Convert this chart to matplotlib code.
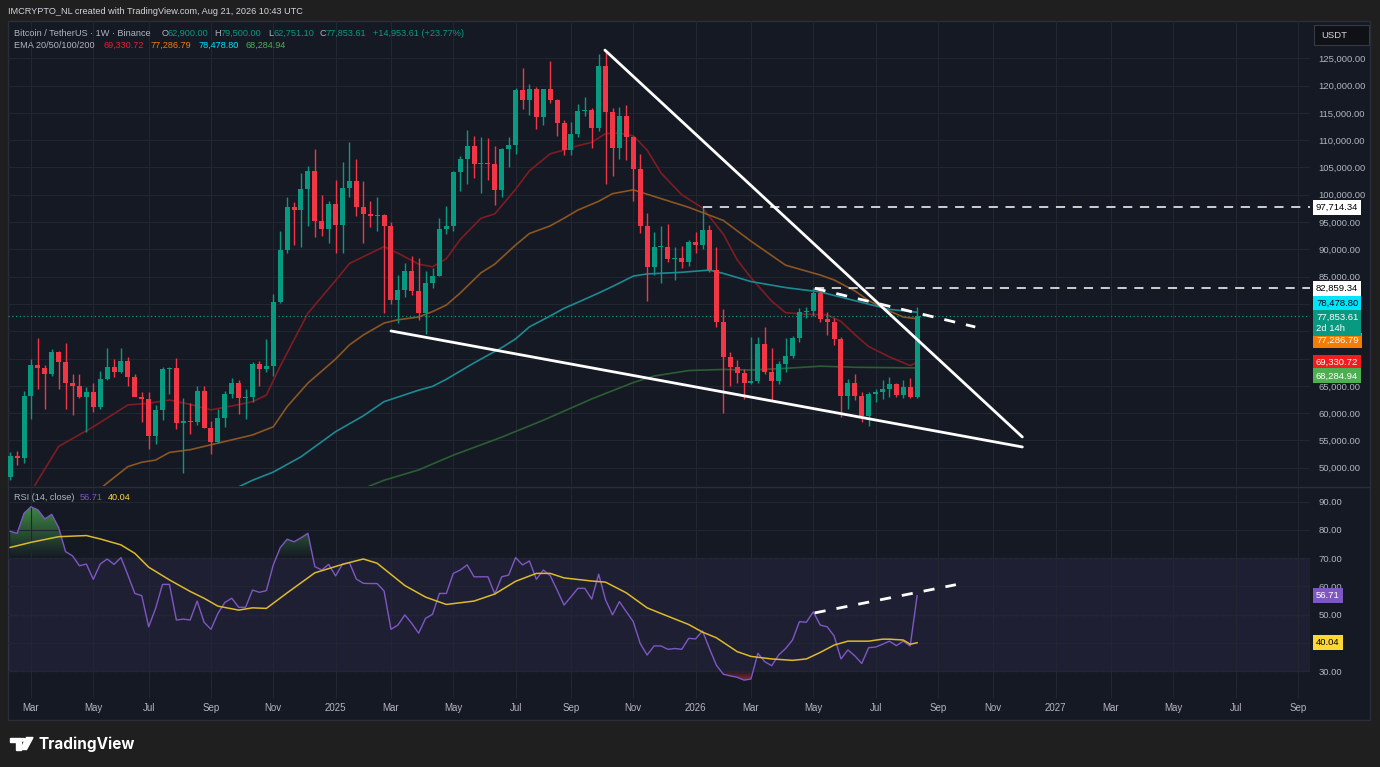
import numpy as np
import pandas as pd
import matplotlib
matplotlib.use('Agg')
import matplotlib.pyplot as plt
import matplotlib.colors as mcolors
from matplotlib.patches import Rectangle, Polygon, Circle
from matplotlib.lines import Line2D
from matplotlib.path import Path

plt.rcParams['font.family'] = ['Liberation Sans', 'DejaVu Sans']

# ---------------- data ----------------
first_week = '2024-02-12'

opens = [48300, 52100, 51700, 63100, 68900, 68300, 67100, 71200, 69300, 65600,
         64900, 63000, 63800, 61100, 66200, 68400, 67600, 69600, 66600, 62900,
         62600, 55800, 60600, 68000, 68200, 58100, 58600, 58400, 64100, 57300,
         54800, 59100, 63500, 65600, 62800, 62900, 69000, 68000, 68700, 80400,
         89800, 97800, 97200, 101100, 104300, 95200, 93700, 98300, 94500, 101300,
         102600, 97700, 96500, 96100, 96300, 94300, 80700, 82600, 86100, 82400,
         78400, 83800, 85200, 93700, 94300, 104100, 106500, 109000, 105600, 105700,
         105600, 100900, 108400, 109200, 119100, 117300, 119400, 114200, 119300, 117400,
         113200, 108200, 111100, 115300, 115500, 112200, 123500, 115200, 108600, 114500,
         110500, 104700, 94300, 86700, 90400, 90500, 88200, 88500, 87600, 91400,
         90800, 93600, 86300, 76700, 70200, 68500, 67400, 65600, 65900, 72700,
         67500, 65900, 69000, 70400, 73800, 78500, 78700, 82000, 77200, 76700,
         73500, 63100, 65600, 63100, 59500, 63500, 63800, 64500, 65300, 63300,
         64800, 62900]
highs = [52800, 52990, 64000, 69990, 73780, 68900, 71700, 71300, 72800, 67200,
         67200, 64700, 65500, 67700, 71900, 70000, 71900, 70200, 67200, 63900,
         63800, 61400, 68400, 68500, 70100, 62700, 61800, 65000, 64900, 58500,
         60700, 64100, 66500, 66000, 64500, 69400, 69500, 73600, 81800, 93300,
         99600, 98700, 104000, 105200, 108400, 99900, 98900, 102700, 106000, 109600,
         106500, 102500, 98800, 99500, 96500, 95000, 85300, 87500, 88800, 88500,
         86100, 86500, 95800, 97900, 104300, 107100, 111900, 110700, 110500, 110400,
         108900, 108500, 110500, 119500, 123200, 120200, 119800, 119300, 124500, 117600,
         113700, 113400, 116700, 117900, 115900, 125700, 126200, 115900, 116100, 116400,
         110800, 107500, 96600, 93100, 94200, 94600, 90400, 90600, 91800, 93200,
         97714, 94500, 90500, 79000, 71200, 69700, 68000, 74000, 74000, 75800,
         71900, 69500, 73800, 74200, 79300, 79400, 82859, 82500, 78500, 77500,
         73900, 66200, 67100, 63900, 63900, 64500, 66000, 66700, 65600, 66100,
         66400, 79500]
lows = [47700, 50500, 50900, 59000, 64500, 60800, 66800, 64500, 60700, 59600,
        62800, 56500, 60200, 60700, 66000, 66600, 67400, 65000, 63300, 58400,
        53500, 54300, 58800, 63500, 57100, 49000, 56100, 57800, 57200, 52500,
        54600, 57500, 62700, 59800, 58900, 62000, 65000, 67500, 66800, 80200,
        89300, 90800, 90500, 94200, 92200, 92500, 91200, 89300, 89300, 99500,
        96200, 91200, 94100, 93400, 78300, 80000, 76600, 81200, 81600, 77000,
        74500, 83000, 85100, 92800, 93300, 100700, 102000, 103100, 100400, 102700,
        98200, 99600, 105100, 107500, 115700, 114700, 112000, 112700, 116800, 110700,
        107300, 107300, 110600, 114400, 108600, 111600, 102000, 103500, 106600, 106300,
        98900, 93000, 80600, 85300, 83800, 87600, 84400, 86600, 86900, 89300,
        90100, 85800, 75800, 60000, 65000, 65600, 62600, 65300, 65600, 67200,
        62400, 65300, 67500, 70100, 73000, 77500, 77800, 76700, 74300, 72500,
        59300, 60800, 62400, 58400, 57600, 62000, 62500, 63000, 62900, 62800,
        62700, 62751.10]
closes = [52100, 51700, 63100, 68900, 68300, 67100, 71200, 69300, 65600, 64900,
          63000, 63800, 61100, 66200, 68400, 67600, 69600, 66600, 62900, 62600,
          55800, 60600, 68000, 68200, 58100, 58600, 58400, 64100, 57300, 54800,
          59100, 63500, 65600, 62800, 62900, 69000, 68000, 68700, 80400, 89800,
          97800, 97200, 101100, 104300, 95200, 93700, 98300, 94500, 101300, 102600,
          97700, 96500, 96100, 96300, 94300, 80700, 82600, 86100, 82400, 78400,
          83800, 85200, 93700, 94300, 104100, 106500, 109000, 105600, 105700, 105600,
          100900, 108400, 109200, 119100, 117300, 119400, 114200, 119300, 117400, 113200,
          108200, 111100, 115300, 115500, 112200, 123500, 115200, 108600, 114500, 110500,
          104700, 94300, 86700, 90400, 90500, 88200, 88500, 87600, 91400, 90800,
          93600, 86300, 76700, 70200, 68500, 67400, 65600, 65900, 72700, 67500,
          65900, 69000, 70400, 73800, 78500, 78700, 82000, 77200, 76700, 73500,
          63100, 65600, 63100, 59500, 63500, 63800, 64500, 65300, 63300, 64800,
          62900, 77853.61]

# EMA lines, read at sample weeks (week number from first candle), values in USD k
ema20_wk = [2, 4, 7, 12, 17, 20, 23, 26, 29, 32, 35, 37, 39, 43, 47, 49, 54, 56, 59, 61,
            63, 65, 68, 70, 73, 75, 78, 80, 82, 84, 86, 88, 90, 92, 94, 97, 100, 103, 105, 107,
            110, 112, 115, 118, 120, 122, 124, 127, 130, 131]
ema20_val = [43.5, 47.7, 53.9, 57.5, 61.5, 61.8, 62.4, 61.6, 60.6, 61.3, 62.1, 63.3, 68.6, 78.3,
             84.3, 87.4, 90.5, 89.3, 87.3, 86.8, 88.3, 91.8, 95.7, 96.5, 101.0, 104.4, 107.5,
             108.2, 109.0, 109.6, 111.2, 111.3, 110.8, 108.2, 104.0, 100.0, 97.6, 92.8, 88.1,
             84.8, 80.5, 78.4, 78.1, 78.0, 76.8, 74.4, 72.2, 70.3, 68.7, 69.33]
ema50_wk = [11, 14, 17, 19, 21, 23, 26, 29, 32, 35, 38, 40, 43, 47, 49, 51, 54, 56, 59, 61,
            63, 65, 68, 70, 73, 75, 78, 80, 82, 85, 87, 90, 92, 94, 98, 103, 107, 112, 117, 119,
            122, 124, 127, 129, 131]
ema50_val = [44.0, 47.2, 50.2, 51.0, 51.4, 52.8, 53.3, 54.2, 55.1, 56.0, 57.5, 61.2, 65.5, 69.9,
             72.5, 74.3, 76.5, 77.1, 77.6, 78.6, 79.8, 82.0, 85.7, 87.3, 90.8, 92.9, 94.3, 95.7,
             97.2, 98.8, 100.2, 100.9, 100.1, 99.3, 97.7, 95.3, 91.5, 87.1, 85.3, 84.4, 82.4,
             80.6, 78.7, 77.6, 77.29]
ema100_wk = [32, 35, 38, 42, 47, 51, 54, 59, 61, 63, 67, 71, 73, 75, 78, 80, 82, 85, 87, 90,
             92, 97, 101, 103, 107, 112, 117, 122, 127, 131]
ema100_val = [45.9, 47.7, 49.2, 52.0, 56.6, 59.5, 62.1, 64.2, 64.9, 66.2, 69.2, 72.0, 73.6, 75.8,
              77.8, 79.2, 80.3, 82.0, 83.2, 85.1, 85.5, 85.8, 86.2, 85.6, 84.1, 83.0, 82.2,
              80.6, 79.0, 78.48]
ema200_wk = [51, 54, 59, 64, 71, 77, 84, 88, 90, 93, 98, 103, 107, 112, 117, 122, 131]
ema200_val = [46.2, 47.7, 49.6, 52.3, 55.6, 58.7, 62.6, 64.6, 65.6, 66.8, 67.8, 68.0, 67.9,
              68.2, 68.6, 68.4, 68.28]

# RSI (14, close), one value per week
rsi_vals = [79.5, 78.8, 85.9, 88.2, 87.1, 83.9, 85.5, 80.8, 72.3, 70.8,
            67.3, 67.9, 62.5, 67.9, 69.7, 67.8, 70.2, 64.0, 57.5, 56.7,
            45.7, 52.2, 60.7, 60.7, 48.1, 48.4, 48.1, 54.8, 47.3, 44.8,
            50.4, 54.3, 55.8, 52.6, 52.6, 58.7, 57.9, 58.5, 67.6, 73.7,
            76.7, 75.8, 77.2, 78.8, 67.0, 65.8, 67.8, 63.7, 67.9, 68.4,
            62.6, 61.1, 61.0, 61.0, 58.4, 44.8, 46.3, 49.9, 46.9, 43.4,
            48.7, 50.1, 57.5, 57.5, 64.6, 65.8, 67.6, 63.4, 63.4, 63.4,
            57.3, 63.4, 64.0, 70.2, 67.6, 69.0, 62.5, 65.8, 63.8, 58.7,
            53.4, 56.3, 59.3, 59.3, 55.5, 64.3, 55.2, 49.9, 54.6, 51.0,
            47.5, 39.8, 35.7, 38.9, 38.9, 37.7, 38.0, 37.7, 41.6, 41.4,
            44.2, 38.0, 32.1, 28.9, 28.3, 27.8, 26.8, 27.2, 36.3, 33.3,
            31.9, 35.7, 38.0, 41.0, 47.5, 47.3, 51.0, 46.3, 45.7, 42.5,
            34.3, 37.5, 35.4, 32.7, 38.3, 38.5, 39.5, 40.6, 39.0, 40.6,
            38.9, 56.71]
rsi_ma_wk = [0, 3, 7, 11, 13, 16, 18, 20, 23, 26, 28, 30, 33, 35, 37, 40, 44, 48, 51, 53,
             57, 60, 63, 67, 70, 73, 76, 78, 80, 84, 86, 89, 92, 94, 98, 100, 102, 105, 107, 110,
             113, 115, 117, 119, 121, 124, 126, 127, 129, 130, 131]
rsi_ma_val = [73.8, 75.6, 77.6, 78.0, 76.8, 74.7, 71.7, 66.8, 62.3, 58.2, 55.8, 53.0, 51.6, 52.4,
              52.2, 57.7, 64.8, 67.8, 69.7, 68.2, 60.3, 56.2, 53.6, 54.8, 57.3, 61.8, 64.6, 64.6,
              63.0, 61.9, 61.5, 57.7, 52.4, 50.4, 46.5, 43.8, 41.8, 36.9, 35.2, 34.3, 33.8, 34.3,
              36.6, 39.2, 40.6, 40.6, 41.3, 41.3, 41.0, 39.5, 40.04]

# drawings
wedge_top_wk = [85.9, 146.2]
wedge_top_px = [126500, 55630]
wedge_bot_wk = [55.0, 146.2]
wedge_bot_px = [75050, 53800]
level_hi = 97714.34
level_hi_wk = 100.1
level_lo = 82859.34
level_lo_wk = 116.2
res_dash_wk = [116.2, 139.4]
res_dash_px = [82859.34, 75780]
rsi_dash_wk = [116.2, 136.6]
rsi_dash_val = [50.6, 60.6]
last_price = 77853.61

ema_last = [69330.72, 77286.79, 78478.80, 68284.94]
rsi_last = 56.71
rsi_ma_last = 40.04

# ---------------- styling ----------------
BG = '#151924'
OUTER = '#1f1f1f'
GRID = '#222631'
TXT = '#b2b5be'
UP = '#089981'
DN = '#f23645'
W, H = 1380, 767

n = len(closes)
idx = np.arange(n)
o = np.array(opens, float)
h = np.array(highs, float)
l = np.array(lows, float)
c = np.array(closes, float)

weeks = pd.date_range(first_week, periods=190, freq='7D')
tick_pos, tick_lab = [], []
for k, d in enumerate(weeks):
    if d.month % 2 == 1 and d.day <= 7:
        tick_pos.append(k)
        tick_lab.append(str(d.year) if d.month == 1 else d.strftime('%b'))

XL = (-0.32, 187.75)


def fx(px):
    return px / W


def fy(py):
    return 1 - py / H


fig = plt.figure(figsize=(13.8, 7.67), dpi=100, facecolor=OUTER)
fig.add_artist(Rectangle((fx(8), fy(720)), (1370 - 8) / W, (720 - 21) / H,
                         transform=fig.transFigure, facecolor=BG, edgecolor='#2a2e39',
                         lw=1, zorder=0))

ax = fig.add_axes([fx(8), fy(486), (1310 - 8) / W, (486 - 21) / H])
ax2 = fig.add_axes([fx(8), fy(690), (1310 - 8) / W, (690 - 487) / H])
for a in (ax, ax2):
    a.set_facecolor('none')
    for s in a.spines.values():
        s.set_visible(False)
    a.set_xticks(tick_pos)
    a.grid(True, color=GRID, lw=0.8, zorder=0)
    a.yaxis.tick_right()
    a.tick_params(axis='y', length=0, labelsize=6.8, labelcolor=TXT, pad=6)

ax.tick_params(axis='x', length=0, labelbottom=False)
ax2.set_xticklabels(tick_lab)
ax2.tick_params(axis='x', length=5.8, color=GRID, labelsize=7, labelcolor=TXT, pad=3.5)

fig.add_artist(Line2D([fx(8), fx(1370)], [fy(486.5), fy(486.5)], transform=fig.transFigure,
                      color='#2a2e39', lw=1))

# ---------------- main panel ----------------
ax.plot(np.array(ema20_wk), np.array(ema20_val) * 1000, color='#7e1c22', lw=1.2, zorder=2)
ax.plot(np.array(ema50_wk), np.array(ema50_val) * 1000, color='#8c5522', lw=1.2, zorder=2)
ax.plot(np.array(ema100_wk), np.array(ema100_val) * 1000, color='#1d8a93', lw=1.2, zorder=2)
ax.plot(np.array(ema200_wk), np.array(ema200_val) * 1000, color='#2b5e33', lw=1.2, zorder=2)

cols = np.where(c >= o, UP, DN)
ax.vlines(idx, l, h, colors=cols, lw=1, zorder=3)
ax.bar(idx, np.maximum(np.abs(c - o), 180), 0.72, np.minimum(o, c), color=cols, lw=0, zorder=4)

ax.axhline(last_price, color=UP, lw=0.9, ls=(0, (1, 2)), zorder=2)

ax.plot(wedge_top_wk, wedge_top_px, color='white', lw=2, zorder=6, solid_capstyle='round')
ax.plot(wedge_bot_wk, wedge_bot_px, color='white', lw=2, zorder=6, solid_capstyle='round')
ax.hlines([level_hi, level_lo], [level_hi_wk, level_lo_wk], XL[1], colors='white',
          lw=1.1, linestyles=[(0, (6, 5))], zorder=6)
ax.plot(res_dash_wk, res_dash_px, color='white', lw=2, dashes=(4, 4), zorder=6)

ax.set_xlim(*XL)
ax.set_ylim(46650, 131830)
price_ticks = np.arange(50000, 125001, 5000)
ax.set_yticks(price_ticks)
# 75k and 80k sit under the price tags on the scale
ax.set_yticklabels(['' if v in (75000, 80000) else f'{v:,.2f}' for v in price_ticks])

# price tags on the right scale
tags = [
    (level_hi, f'{level_hi:,.2f}', 'white', 'black', 0),
    (level_lo, f'{level_lo:,.2f}', 'white', 'black', 0),
    (ema_last[2], f'{ema_last[2]:,.2f}', '#00e5ff', 'black', 9),
    (ema_last[1], f'{ema_last[1]:,.2f}', '#f57c00', 'white', -22),
    (ema_last[0], f'{ema_last[0]:,.2f}', '#f21c1c', 'white', 0),
    (ema_last[3], f'{ema_last[3]:,.2f}', '#4caf50', 'white', -8),
]
for val, txt, bg, fg, dy in tags:
    ax.annotate(txt, xy=(1.0046, val), xycoords=('axes fraction', 'data'),
                xytext=(0, dy), textcoords='offset pixels', ha='left', va='center',
                fontsize=6.8, color=fg, annotation_clip=False, zorder=10,
                bbox=dict(boxstyle='square,pad=0.32', fc=bg, ec='none'))
ax.annotate(f'{last_price:,.2f}\n2d 14h', xy=(1.0046, last_price),
            xycoords=('axes fraction', 'data'), xytext=(0, -7.5), textcoords='offset pixels',
            ha='left', va='center', fontsize=6.8, color='white', linespacing=1.25,
            annotation_clip=False, zorder=10,
            bbox=dict(boxstyle='square,pad=0.32', fc=UP, ec='none'))

# ---------------- RSI panel ----------------
rsi = np.array(rsi_vals)
ax2.axhspan(30, 70, color='#7e57c2', alpha=0.1, lw=0, zorder=1)
for lev in (30, 50, 70):
    ax2.axhline(lev, color='#5d606b', lw=0.8, ls=(0, (3, 3)), zorder=1.2)


def gradient_fill(a, x, y, base, above, color, amax):
    mask = y > base if above else y < base
    poly = a.fill_between(x, y, base, where=mask, interpolate=True,
                          facecolor='none', edgecolor='none')
    paths = poly.get_paths()
    if not paths:
        return
    lo, hi = (base, y.max()) if above else (y.min(), base)
    rgba = np.zeros((100, 2, 4))
    rgba[..., :3] = mcolors.to_rgb(color)
    ramp = np.linspace(0, 1, 100)
    if not above:
        ramp = ramp[::-1]
    rgba[..., 3] = (ramp * amax)[:, None]
    im = a.imshow(rgba, extent=[x.min(), x.max(), lo, hi], origin='lower',
                  aspect='auto', interpolation='bilinear', zorder=1.5)
    im.set_clip_path(Path.make_compound_path(*paths), transform=a.transData)


gradient_fill(ax2, idx.astype(float), rsi, 70, True, '#4caf50', 0.75)
gradient_fill(ax2, idx.astype(float), rsi, 30, False, '#f23645', 0.5)

ax2.plot(idx, rsi, color='#7e57c2', lw=1, zorder=3)
ax2.plot(rsi_ma_wk, rsi_ma_val, color='#dcba2c', lw=1.1, zorder=3)
ax2.plot(rsi_dash_wk, rsi_dash_val, color='white', lw=2, dashes=(4, 4), zorder=6)

ax2.set_xlim(*XL)
ax2.set_ylim(23.3, 95.2)
rsi_ticks = [30, 40, 50, 60, 70, 80, 90]
ax2.set_yticks(rsi_ticks)
# 40 sits under the MA tag
ax2.set_yticklabels(['' if v == 40 else f'{v:.2f}' for v in rsi_ticks])

for val, bg, fg in [(rsi_last, '#7e57c2', 'white'), (rsi_ma_last, '#fdd835', 'black')]:
    ax2.annotate(f'{val:.2f}', xy=(1.0046, val), xycoords=('axes fraction', 'data'),
                 ha='left', va='center', fontsize=6.8, color=fg, annotation_clip=False,
                 zorder=10, bbox=dict(boxstyle='square,pad=0.32', fc=bg, ec='none'))

# ---------------- texts ----------------
fig.text(fx(8), fy(12), 'IMCRYPTO_NL created with TradingView.com, Aug 21, 2026 10:43 UTC',
         color='#d1d4dc', fontsize=6.6, va='center')

row1 = [(14, 'Bitcoin / TetherUS · 1W · Binance', TXT),
        (161.5, 'O', TXT), (168, '62,900.00', UP),
        (214.5, 'H', TXT), (221, '79,500.00', UP),
        (268, 'L', TXT), (273, '62,751.10', UP),
        (319.5, 'C', TXT), (325.5, '77,853.61', UP),
        (373, '+14,953.61 (+23.77%)', UP)]
for x0, t, col in row1:
    fig.text(fx(x0), fy(33), t, color=col, fontsize=6.6, va='center')
row2 = [(14, 'EMA 20/50/100/200', TXT),
        (104, f'{ema_last[0]:,.2f}', '#e5202c'),
        (151, f'{ema_last[1]:,.2f}', '#f57c00'),
        (198.5, f'{ema_last[2]:,.2f}', '#00e5ff'),
        (245, f'{ema_last[3]:,.2f}', '#4caf50')]
for x0, t, col in row2:
    fig.text(fx(x0), fy(45.5), t, color=col, fontsize=6.6, va='center')

fig.text(fx(13.5), fy(497.5), 'RSI (14, close)', color=TXT, fontsize=6.6, va='center')
fig.text(fx(79.5), fy(497.5), f'{rsi_last:.2f}', color='#7e57c2', fontsize=6.6, va='center')
fig.text(fx(108), fy(497.5), f'{rsi_ma_last:.2f}', color='#fdd835', fontsize=6.6, va='center')

# USDT box
fig.add_artist(Rectangle((fx(1314), fy(45)), 55 / W, 20 / H, transform=fig.transFigure,
                         facecolor='#0f1116', edgecolor='#363a45', lw=0.8, zorder=5))
fig.text(fx(1321), fy(35), 'USDT', color='#d1d4dc', fontsize=6.8, va='center', zorder=6)

# TradingView logo
fig.add_artist(Polygon([(fx(9.5), fy(737.5)), (fx(20.5), fy(737.5)), (fx(20.5), fy(749.5)),
                        (fx(15.5), fy(749.5)), (fx(15.5), fy(742)), (fx(9.5), fy(742))],
                       closed=True, transform=fig.transFigure, color='white'))
fig.add_artist(Circle((fx(23.2), fy(739.8)), 2.3 / W, transform=fig.transFigure, color='white'))
fig.add_artist(Polygon([(fx(26.5), fy(737.5)), (fx(33), fy(737.5)), (fx(26.5), fy(749.5)),
                        (fx(20.5), fy(749.5))],
                       closed=True, transform=fig.transFigure, color='white'))
fig.text(fx(38.5), fy(744), 'TradingView', color='white', fontsize=11, fontweight='bold',
         va='center', family=['Inter', 'DejaVu Sans'])

fig.savefig('out.png', dpi=100, facecolor=OUTER)
